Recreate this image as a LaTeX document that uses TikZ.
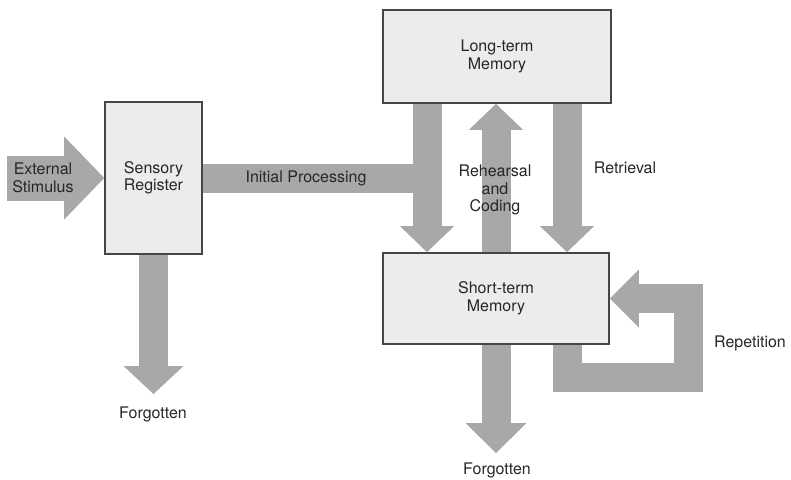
\documentclass[tikz,border=0pt]{standalone}
\usepackage{fontspec}
\setmainfont{TeX Gyre Heros}
\usetikzlibrary{arrows.meta,backgrounds}
\definecolor{arrowgray}{RGB}{168,168,168}
\definecolor{boxgray}{RGB}{236,236,236}
\definecolor{rimgray}{RGB}{70,70,70}

\begin{document}
\begin{tikzpicture}[x=1pt,y=-1pt]
    \tikzstyle{txt}=[align=center, text=black!85, inner sep=0pt, font=\fontsize{16}{17.5}\selectfont]
    \tikzstyle{store}=[txt, draw=rimgray, line width=1.6pt, fill=boxgray]
    \tikzstyle{flow}=[draw=arrowgray, line width=29pt, -{Triangle[width=54pt,length=26pt,line width=0pt]}]

    \useasboundingbox (0,0) rectangle (791,479);

    % the three stores
    \node[store, minimum width=97pt, minimum height=152pt] (sr) at (153.5,178) {Sensory\\Register};
    \node[store, minimum width=228pt, minimum height=93pt] (ltm) at (497,56.5) {Long-term\\Memory};
    \node[store, minimum width=226pt, minimum height=91pt] (stm) at (496,298.5) {Short-term\\Memory};

    \coordinate (es) at (7,178);
    \coordinate (dl) at (427,0);
    \coordinate (dr) at (567,0);
    \coordinate (rx) at (567.5,0);
    \coordinate (rp) at (688,377.5);
    \coordinate (f1) at (153.5,394);
    \coordinate (f2) at (496,453);

    \begin{scope}[on background layer]
        \draw[flow, line width=45pt, -{Triangle[width=83pt,length=40pt,line width=0pt]}] (es) -- (sr.west);
        \draw[flow, -] (sr.east) -- (sr.east -| dl);
        \draw[flow] (ltm.south -| dl) -- (stm.north -| dl);
        \draw[flow] (stm.north) -- (ltm.south -| stm.north);
        \draw[flow] (ltm.south -| dr) -- (stm.north -| dr);
        \draw[flow, -{Triangle[width=60pt,length=28pt,line width=0pt]}] (sr.south) -- (f1);
        \draw[flow, -{Triangle[width=61pt,length=30pt,line width=0pt]}] (stm.south) -- (f2);
        \draw[flow, line join=miter, -{Triangle[width=58pt,length=29pt,line width=0pt]}] (stm.south -| rx) |- (rp) |- (stm.east);
    \end{scope}

    \node[txt] (stim) at (43,178) {External\\Stimulus};
    \node[txt] (ip) at (306,178) {Initial Processing};
    \node[txt] (rc) at (495,190) {Rehearsal\\and\\Coding};
    \node[txt] (rt) at (625,168) {Retrieval};
    \node[txt] (rep) at (750,343) {Repetition};
    \node[txt] (fg1) at (153,414) {Forgotten};
    \node[txt] (fg2) at (497,470) {Forgotten};
\end{tikzpicture}
\end{document}
